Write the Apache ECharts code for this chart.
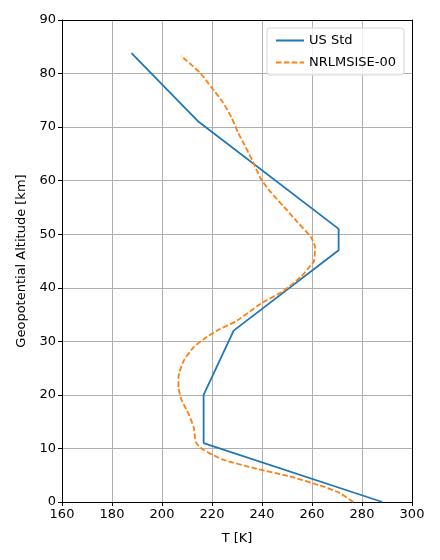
<!DOCTYPE html>
<html>
<head>
<meta charset="utf-8">
<script src="https://cdn.jsdelivr.net/npm/echarts@6/dist/echarts.min.js"></script>
<style>
  html, body { margin: 0; padding: 0; background: #fff; }
  #chartsDiv { width: 440px; height: 560px; }
</style>
</head>
<body>
<div id="chartsDiv"></div>
<script>
// US standard atmosphere, temperature [K] vs geopotential altitude [km]
var usStdT = [288.15, 216.65, 216.65, 228.65, 270.65, 270.65, 214.65, 187.8];
var usStdAlt = [0, 11, 20, 32, 47, 51, 71, 83.8];

// NRLMSISE-00 profile
var msisT = [276.5, 271.0, 264.4, 251.0, 238.0, 224.4, 216.4, 213.5, 212.7, 210.7, 208.0, 206.6,
  206.6, 208.7, 212.7, 216.7, 222.0, 230.1, 239.4, 248.8, 255.5, 259.5, 260.8, 261.2, 259.5,
  254.1, 248.8, 243.4, 239.6, 236.4, 233.1, 230.4, 227.8, 224.4, 219.8, 215.1, 207.6];
var msisAlt = [0, 1.7, 2.9, 4.8, 6.2, 7.9, 9.8, 11.2, 13.9, 16.4, 18.9, 21.4,
  23.3, 26.4, 28.9, 30.4, 32.0, 33.9, 37.0, 39.5, 42.0, 44.2, 45.0, 47.6, 49.5,
  52.3, 55.1, 57.9, 60.3, 63.5, 66.6, 69.0, 71.8, 74.6, 77.4, 80.2, 83.3];

var xTicks = { min: 160, max: 300, interval: 20 };
var yTicks = { min: 0, max: 90, interval: 10 };

var pairs = function (xs, ys) {
  return xs.map(function (x, i) { return [x, ys[i]]; });
};

var realChart = echarts.init(document.getElementById('chartsDiv'));
var font = 'DejaVu Sans';
var axisCommon = {
  type: 'value',
  nameLocation: 'middle',
  nameTextStyle: { color: '#000', fontSize: 13, fontFamily: font },
  axisLine: { show: true, onZero: false, lineStyle: { color: '#000', width: 1 } },
  axisTick: { show: true, inside: false, length: 4, lineStyle: { color: '#000' } },
  axisLabel: { color: '#000', fontSize: 13, fontFamily: font, margin: 6 },
  splitLine: { show: true, lineStyle: { color: '#b0b0b0', width: 1 } }
};

var option = {
  animation: false,
  backgroundColor: '#fff',
  grid: { left: 62, right: 28, top: 20, bottom: 58, show: false },
  legend: {
    orient: 'vertical',
    right: 36,
    top: 28,
    itemWidth: 28,
    itemHeight: 10,
    itemGap: 9,
    padding: [6, 8, 6, 8],
    backgroundColor: 'rgba(255,255,255,0.8)',
    borderColor: '#d5d5d5',
    borderWidth: 1,
    borderRadius: 3,
    itemStyle: { opacity: 0 },
    textStyle: { color: '#000', fontSize: 13, fontFamily: font },
    data: ['US Std', 'NRLMSISE-00']
  },
  xAxis: [
    Object.assign({}, axisCommon, {
      name: 'T [K]', nameGap: 30,
      min: xTicks.min, max: xTicks.max, interval: xTicks.interval
    }),
    { type: 'value', position: 'top', min: xTicks.min, max: xTicks.max,
      axisLine: { show: true, onZero: false, lineStyle: { color: '#000' } },
      axisTick: { show: false }, axisLabel: { show: false }, splitLine: { show: false } }
  ],
  yAxis: [
    Object.assign({}, axisCommon, {
      name: 'Geopotential Altitude [km]', nameGap: 34,
      min: yTicks.min, max: yTicks.max, interval: yTicks.interval
    }),
    { type: 'value', position: 'right', min: yTicks.min, max: yTicks.max,
      axisLine: { show: true, onZero: false, lineStyle: { color: '#000' } },
      axisTick: { show: false }, axisLabel: { show: false }, splitLine: { show: false } }
  ],
  series: [
    {
      name: 'US Std',
      type: 'line',
      symbol: 'none',
      color: '#1f77b4',
      lineStyle: { color: '#1f77b4', width: 1.8 },
      data: pairs(usStdT, usStdAlt)
    },
    {
      name: 'NRLMSISE-00',
      type: 'line',
      symbol: 'none',
      smooth: 0.2,
      color: '#ff7f0e',
      lineStyle: { color: '#ff7f0e', width: 1.8, type: [5.5, 2.4] },
      data: pairs(msisT, msisAlt)
    }
  ]
};
realChart.setOption(option);
</script>
</body>
</html>
